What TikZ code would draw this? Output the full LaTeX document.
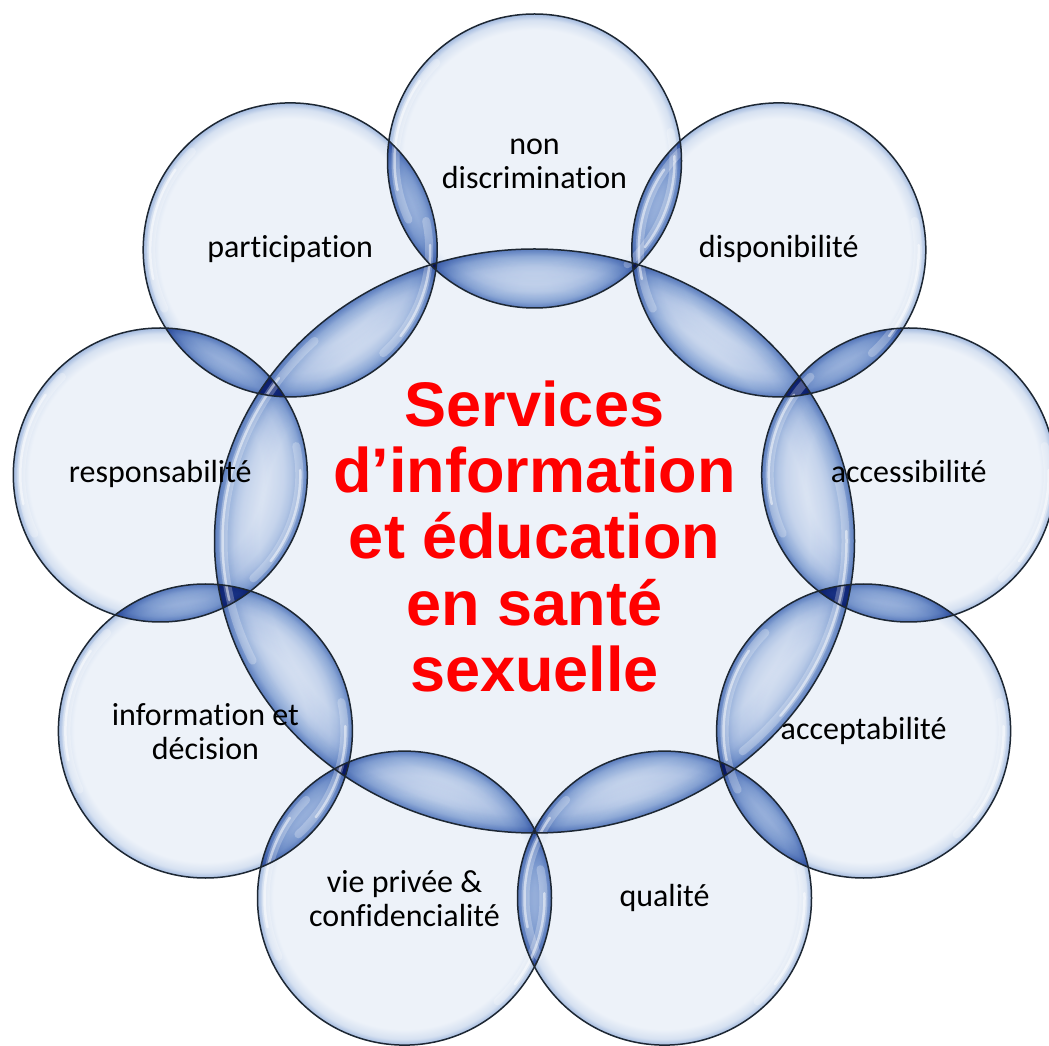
\documentclass[tikz,border=0pt]{standalone}
\usepackage{fontspec}
\setmainfont{Carlito}[Ligatures=NoCommon]
\newfontfamily\hubfont{Liberation Sans}
\usetikzlibrary{shapes.geometric}
\definecolor{bubIn}{HTML}{EDF2F9}
\definecolor{bubB}{HTML}{D6E1F1}
\definecolor{bubOut}{HTML}{A3BADF}
\definecolor{lensA}{HTML}{E6EDF8}
\definecolor{lensB}{HTML}{BACDEA}
\definecolor{lensC}{HTML}{9CB6E0}
\definecolor{rimLine}{HTML}{1D2733}
\definecolor{hubRed}{HTML}{FF0000}
\pgfdeclareradialshading{bubshade}{\pgfpoint{0bp}{0bp}}{color(0bp)=(bubIn); color(22.3bp)=(bubIn); color(24bp)=(bubB); color(25bp)=(bubOut); color(50bp)=(bubOut)}
\pgfdeclareradialshading{hubshade}{\pgfpoint{0bp}{0bp}}{color(0bp)=(bubIn); color(23.5bp)=(bubIn); color(24.4bp)=(bubB); color(25bp)=(bubOut); color(50bp)=(bubOut)}
\pgfdeclareradialshading{lensshade}{\pgfpoint{0bp}{0bp}}{color(0bp)=(white); color(17.5bp)=(white); color(21bp)=(lensA); color(23.5bp)=(lensB); color(25bp)=(lensC); color(50bp)=(lensC)}
\pgfdeclareradialshading{hublens}{\pgfpoint{0bp}{0bp}}{color(0bp)=(white); color(21.5bp)=(white); color(23bp)=(lensA); color(24.3bp)=(lensB); color(25bp)=(lensC); color(50bp)=(lensC)}
\pgfdeclarelayer{back}
\pgfdeclarelayer{rims}
\pgfsetlayers{back,rims,main}
\newcommand\capS{\rule{0pt}{24pt}}
\newcommand\botS{\rule[-8pt]{0pt}{8pt}}
\newcommand\botD{\rule[-2pt]{0pt}{2pt}}
\newcommand\hubT{\rule{0pt}{50pt}}
\newcommand\hubB{\rule[-14pt]{0pt}{14pt}}
\begin{document}
\begin{tikzpicture}[x=1pt,y=1pt,
  bub/.style={circle, minimum size=294pt, inner sep=0pt, align=center,
    font=\fontsize{32}{34}\selectfont, text=black, draw=rimLine, line width=1.5pt},
  hubnode/.style={ellipse, minimum width=640pt, minimum height=584pt, inner sep=0pt,
    align=center, font=\hubfont\bfseries\fontsize{63}{66.3}\selectfont, text=hubRed,
    draw=rimLine, line width=1.5pt},
  glintwide/.style={draw=white, line cap=round, line width=8pt, opacity=0.25},
  glintthin/.style={draw=white, line cap=round, line width=2.5pt, opacity=0.5},
]
\useasboundingbox (0,0) rectangle (1049,1045);

\node[hubnode] (hub) at (534.5,504) {\hubT Services\\d’information\\et éducation\\en santé\\sexuelle\hubB};

\node[bub] (nd)   at (534.5,884.0) {\capS non\\discrimination\botD};
\node[bub] (disp) at (778.8,795.1) {\capS disponibilité\botS};
\node[bub] (acc)  at (908.7,570.0) {\capS accessibilité\botS};
\node[bub] (acp)  at (863.6,314.0) {\capS acceptabilité\botS};
\node[bub] (qual) at (664.5,146.9) {\capS qualité\botS};
\node[bub] (vie)  at (404.5,146.9) {\capS vie privée \&\\confidencialité\botD};
\node[bub] (info) at (205.4,314.0) {\capS information et\\décision\botD};
\node[bub] (resp) at (160.3,570.0) {\capS responsabilité\botS};
\node[bub] (part) at (290.2,795.1) {\capS participation\botS};

\begin{pgfonlayer}{back}
  \fill[white] (0,0) rectangle (1049,1045);
  \begin{scope}[blend mode=multiply]
    \shade[shading=hubshade] (hub.center) ellipse [x radius=320, y radius=292];
    \foreach \n in {nd,disp,acc,acp,qual,vie,info,resp,part}
      \shade[shading=bubshade] (\n.center) circle [radius=147];
    % lenses between neighbouring outer bubbles
    \foreach \a/\b in {nd/disp,disp/acc,acc/acp,acp/qual,qual/vie,vie/info,info/resp,resp/part,part/nd} {
      \begin{scope}
        \clip (\a.center) circle [radius=147];
        \shade[shading=lensshade] (\b.center) circle [radius=147];
      \end{scope}
      \begin{scope}
        \clip (\b.center) circle [radius=147];
        \shade[shading=lensshade] (\a.center) circle [radius=147];
      \end{scope}
    }
    % lenses between the hub and each bubble
    \foreach \a in {nd,disp,acc,acp,qual,vie,info,resp,part} {
      \begin{scope}
        \clip (\a.center) circle [radius=147];
        \shade[shading=hublens] (hub.center) ellipse [x radius=320, y radius=292];
      \end{scope}
      \begin{scope}
        \clip (hub.center) ellipse [x radius=320, y radius=292];
        \shade[shading=lensshade] (\a.center) circle [radius=147];
      \end{scope}
    }
  \end{scope}
\end{pgfonlayer}

\begin{pgfonlayer}{rims}
  \foreach \n in {nd,disp,acc,acp,qual,vie,info,resp,part} {
    \draw[glintwide] ([shift={(135:139)}]\n.center) arc [start angle=135, end angle=205, radius=139];
    \draw[glintthin] ([shift={(145:140)}]\n.center) arc [start angle=145, end angle=192, radius=140];
    \draw[glintwide] ([shift={(-48:139)}]\n.center) arc [start angle=-48, end angle=12, radius=139];
    \draw[glintthin] ([shift={(-38:140)}]\n.center) arc [start angle=-38, end angle=2, radius=140];
  }
  \draw[glintwide] ([shift={(135:311 and 283)}]hub.center) arc [start angle=135, end angle=205, x radius=311, y radius=283];
  \draw[glintthin] ([shift={(145:312 and 284)}]hub.center) arc [start angle=145, end angle=192, x radius=312, y radius=284];
  \draw[glintwide] ([shift={(-48:311 and 283)}]hub.center) arc [start angle=-48, end angle=12, x radius=311, y radius=283];
  \draw[glintthin] ([shift={(-38:312 and 284)}]hub.center) arc [start angle=-38, end angle=2, x radius=312, y radius=284];
\end{pgfonlayer}
\end{tikzpicture}
\end{document}
